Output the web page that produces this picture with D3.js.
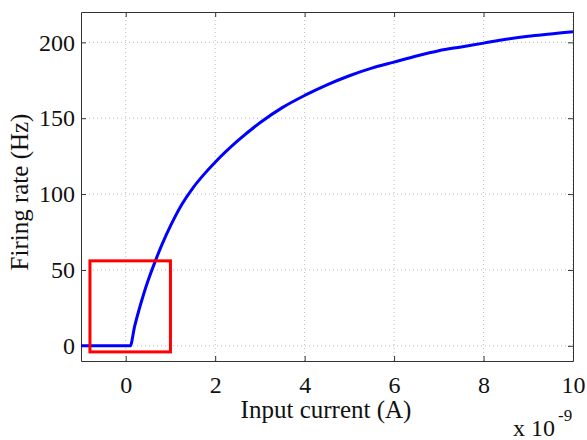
<!DOCTYPE html>
<html>
<head>
<meta charset="utf-8">
<script src="https://cdn.jsdelivr.net/npm/d3@7"></script>
<style>
  body { margin: 0; background: #fff; }
  text { font-family: "Liberation Serif", "DejaVu Serif", serif; fill: #111; }
  .grid line { stroke: #bbb; stroke-dasharray: 1,3; }
</style>
</head>
<body>
<div id="chart"></div>
<script>
// input current in units of 1e-9 A, firing rate in Hz
const current = [-1, 0.1, 0.2, 0.3, 0.4, 0.5, 0.65, 0.8, 1.0, 1.25, 1.5, 1.75, 2.0, 2.5, 3.0, 3.5, 4.0, 4.5, 5.0, 5.5, 6.0, 6.5, 7.0, 7.5, 8.0, 8.5, 9.0, 9.5, 10];
const rate = [0, 0, 13, 24, 34, 43, 55, 66, 79, 93, 104, 113, 121, 135, 147, 157, 165, 172, 178, 183, 187, 191, 194.5, 197, 199.5, 202, 204, 205.5, 207];
const xTicks = [0, 2, 4, 6, 8, 10];
const yTicks = [0, 50, 100, 150, 200];
// zoom box drawn over the onset region
const boxX = [-0.8, 1.0];
const boxY = [-4, 56];

const width = 587, height = 440;
const margin = {top: 12, right: 14, bottom: 79, left: 81};

const svg = d3.select("#chart").append("svg")
    .attr("width", width)
    .attr("height", height);

const x = d3.scaleLinear().domain([-1, 10]).range([margin.left, width - margin.right]);
const y = d3.scaleLinear().domain([-10, 220]).range([height - margin.bottom, margin.top]);

// grid
const grid = svg.append("g").attr("class", "grid");
grid.selectAll("line.gx").data(xTicks).enter().append("line")
    .attr("class", "gx")
    .attr("x1", d => x(d)).attr("x2", d => x(d))
    .attr("y1", y.range()[0]).attr("y2", y.range()[1]);
grid.selectAll("line.gy").data(yTicks).enter().append("line")
    .attr("class", "gy")
    .attr("x1", x.range()[0]).attr("x2", x.range()[1])
    .attr("y1", d => y(d)).attr("y2", d => y(d));

// axes with inward ticks, MATLAB style
const tickLen = 5;
const axBottom = svg.append("g")
    .attr("transform", `translate(0,${y.range()[0]})`)
    .call(d3.axisBottom(x).tickValues(xTicks).tickSizeInner(-tickLen).tickSizeOuter(0).tickPadding(15));
const axTop = svg.append("g")
    .attr("transform", `translate(0,${y.range()[1]})`)
    .call(d3.axisTop(x).tickValues(xTicks).tickSizeInner(-tickLen).tickSizeOuter(0).tickFormat(""));
const axLeft = svg.append("g")
    .attr("transform", `translate(${x.range()[0]},0)`)
    .call(d3.axisLeft(y).tickValues(yTicks).tickSizeInner(-tickLen).tickSizeOuter(0).tickPadding(6));
const axRight = svg.append("g")
    .attr("transform", `translate(${x.range()[1]},0)`)
    .call(d3.axisRight(y).tickValues(yTicks).tickSizeInner(-tickLen).tickSizeOuter(0).tickFormat(""));

[axBottom, axTop, axLeft, axRight].forEach(g => {
    g.select(".domain").attr("stroke", "#333").attr("stroke-width", 1);
    g.selectAll(".tick line").attr("stroke", "#333");
    g.selectAll("text").style("font-family", "Liberation Serif, serif").style("font-size", "24px").attr("fill", "#111");
});

// curve
const pts = current.map((c, i) => [c, rate[i]]);
svg.append("path")
    .datum(pts)
    .attr("fill", "none")
    .attr("stroke", "#0000ff")
    .attr("stroke-width", 3)
    .attr("d", d3.line().x(d => x(d[0])).y(d => y(d[1])).curve(d3.curveMonotoneX));

// red box
svg.append("rect")
    .attr("x", x(boxX[0])).attr("y", y(boxY[1]))
    .attr("width", x(boxX[1]) - x(boxX[0]))
    .attr("height", y(boxY[0]) - y(boxY[1]))
    .attr("fill", "none")
    .attr("stroke", "#ff0000")
    .attr("stroke-width", 3);

// labels
svg.append("text")
    .attr("x", 326)
    .attr("y", 418)
    .attr("text-anchor", "middle")
    .style("font-size", "25px")
    .text("Input current (A)");

svg.append("text")
    .attr("transform", `translate(28,192) rotate(-90)`)
    .attr("text-anchor", "middle")
    .style("font-size", "25px")
    .text("Firing rate (Hz)");

const sci = svg.append("text")
    .attr("x", 513)
    .attr("y", 436)
    .style("font-size", "24px")
    .text("x 10");
sci.append("tspan")
    .attr("dy", -15)
    .attr("dx", 3)
    .style("font-size", "17px")
    .text("-9");
</script>
</body>
</html>
